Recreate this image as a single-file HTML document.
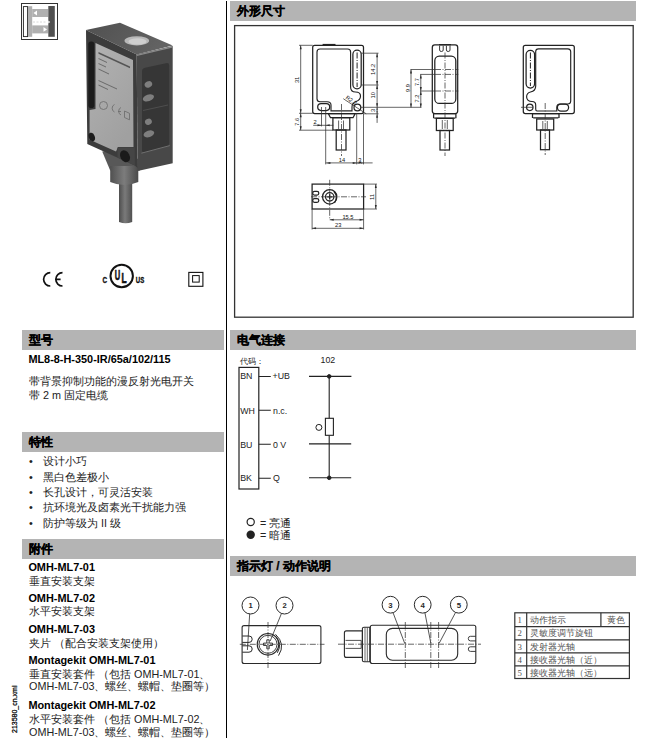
<!DOCTYPE html>
<html><head><meta charset="utf-8">
<style>
@font-face{font-family:"LSx";src:local("Liberation Sans"),local("LiberationSans-Regular");size-adjust:133.3%;unicode-range:U+2E80-9FFF,U+F900-FAFF,U+FE30-FE4F,U+FF00-FFEF;}
@font-face{font-family:"LSx";src:local("Liberation Sans Bold"),local("LiberationSans-Bold");font-weight:bold;size-adjust:133.3%;unicode-range:U+2E80-9FFF,U+F900-FAFF,U+FE30-FE4F,U+FF00-FFEF;}
html,body{margin:0;padding:0;background:#fff;}
body{width:660px;height:738px;position:relative;overflow:hidden;font-family:"LSx","Liberation Sans",sans-serif;color:#111;}
.a{position:absolute;white-space:nowrap;}
.bar{position:absolute;background:#b4b4b4;height:19.5px;line-height:21px;font-weight:bold;font-size:12px;color:#000;padding-left:7px;box-sizing:border-box;-webkit-text-stroke:0.25px #000;}
.b{font-weight:bold;font-size:10.9px;line-height:12px;color:#000;}
.t{font-size:10.8px;line-height:12px;color:#222;}
.li{font-size:10.8px;line-height:12px;color:#222;}
.s{font-size:8.8px;line-height:10px;color:#222;}
svg{position:absolute;left:0;top:0;}
.tb{font-family:"LSx","Liberation Serif",serif;font-size:8.8px;line-height:12px;color:#555;}
</style></head><body>

<!-- vertical divider -->
<div class="a" style="left:226px;top:1px;width:1.2px;height:737px;background:#000"></div>

<!-- header bars -->
<div class="bar" style="left:230px;top:1px;width:406px;">外形尺寸</div>
<div class="bar" style="left:22px;top:330px;width:202px;">型号</div>
<div class="bar" style="left:230px;top:330px;width:406px;">电气连接</div>
<div class="bar" style="left:22px;top:432.4px;width:202px;">特性</div>
<div class="bar" style="left:22px;top:539px;width:202px;">附件</div>
<div class="bar" style="left:230px;top:556px;width:406px;">指示灯 / 动作说明</div>

<!-- left column text -->
<div class="a b" style="left:28.4px;top:353px;">ML8-8-H-350-IR/65a/102/115</div>
<div class="a t" style="left:29px;top:375px;">带背景抑制功能的漫反射光电开关</div>
<div class="a t" style="left:29px;top:389px;">带 2 m 固定电缆</div>

<div class="a li" style="left:29px;top:455px;">•</div><div class="a li" style="left:43px;top:455px;">设计小巧</div>
<div class="a li" style="left:29px;top:470.5px;">•</div><div class="a li" style="left:43px;top:470.5px;">黑白色差极小</div>
<div class="a li" style="left:29px;top:485.5px;">•</div><div class="a li" style="left:43px;top:485.5px;">长孔设计，可灵活安装</div>
<div class="a li" style="left:29px;top:501px;">•</div><div class="a li" style="left:43px;top:501px;">抗环境光及卤素光干扰能力强</div>
<div class="a li" style="left:29px;top:516.5px;">•</div><div class="a li" style="left:43px;top:516.5px;">防护等级为 II 级</div>

<div class="a b" style="left:28.4px;top:560.5px;">OMH-ML7-01</div>
<div class="a t" style="left:29px;top:575px;">垂直安装支架</div>
<div class="a b" style="left:28.4px;top:592.3px;">OMH-ML7-02</div>
<div class="a t" style="left:29px;top:605.4px;">水平安装支架</div>
<div class="a b" style="left:28.4px;top:623.2px;">OMH-ML7-03</div>
<div class="a t" style="left:29px;top:636.5px;">夹片 （配合安装支架使用）</div>
<div class="a b" style="left:28.4px;top:654.4px;">Montagekit OMH-ML7-01</div>
<div class="a t" style="left:29px;top:668px;">垂直安装套件 （包括 OMH-ML7-01、</div>
<div class="a t" style="left:29px;top:680px;">OMH-ML7-03、螺丝、螺帽、垫圈等）</div>
<div class="a b" style="left:28.4px;top:698.9px;">Montagekit OMH-ML7-02</div>
<div class="a t" style="left:29px;top:712.8px;">水平安装套件 （包括 OMH-ML7-02、</div>
<div class="a t" style="left:29px;top:726.3px;">OMH-ML7-03、螺丝、螺帽、垫圈等）</div>

<div class="a" style="left:10.8px;top:733.2px;font-size:7px;line-height:7px;transform:rotate(-90deg);transform-origin:0 0;color:#000;-webkit-text-stroke:0.25px #000;">213580_cn.xml</div>

<!-- electrical text -->
<div class="a s" style="left:240px;top:355.5px;font-size:8.4px;">代码：</div>
<div class="a s" style="left:320.5px;top:354.6px;">102</div>
<div class="a s" style="left:240.2px;top:371.2px;">BN</div>
<div class="a s" style="left:272.6px;top:371.2px;">+UB</div>
<div class="a s" style="left:240.2px;top:405.6px;">WH</div>
<div class="a s" style="left:273px;top:405.6px;">n.c.</div>
<div class="a s" style="left:240.2px;top:439.5px;">BU</div>
<div class="a s" style="left:273px;top:439.5px;">0 V</div>
<div class="a s" style="left:240.2px;top:473.4px;">BK</div>
<div class="a s" style="left:273px;top:473.4px;">Q</div>
<div class="a t" style="left:260px;top:517.2px;">= 亮通</div>
<div class="a t" style="left:260px;top:529px;">= 暗通</div>


<div class="a tb" style="left:517.5px;top:614px;">1</div><div class="a tb" style="left:529.5px;top:614px;">动作指示</div><div class="a tb" style="left:607px;top:614px;">黄色</div>
<div class="a tb" style="left:517.5px;top:627.3px;">2</div><div class="a tb" style="left:529.5px;top:627.3px;">灵敏度调节旋钮</div>
<div class="a tb" style="left:517.5px;top:640.5px;">3</div><div class="a tb" style="left:529.5px;top:640.5px;">发射器光轴</div>
<div class="a tb" style="left:517.5px;top:653.5px;">4</div><div class="a tb" style="left:529.5px;top:653.5px;">接收器光轴（近）</div>
<div class="a tb" style="left:517.5px;top:666.5px;">5</div><div class="a tb" style="left:529.5px;top:666.5px;">接收器光轴（远）</div>

<!-- product photo -->
<svg width="660" height="738" viewBox="0 0 660 738">
  <defs>
    <linearGradient id="gl" x1="0" y1="0" x2="0.6" y2="1">
      <stop offset="0" stop-color="#b2b2b2"/><stop offset="1" stop-color="#a0a0a0"/>
    </linearGradient>
    <linearGradient id="gc" x1="0" y1="0" x2="1" y2="0">
      <stop offset="0" stop-color="#4e4e4e"/><stop offset="0.45" stop-color="#7a7a7a"/><stop offset="1" stop-color="#505050"/>
    </linearGradient>
    <linearGradient id="gk" x1="0" y1="0" x2="1" y2="0">
      <stop offset="0" stop-color="#505050"/><stop offset="0.5" stop-color="#7c7c7c"/><stop offset="1" stop-color="#4a4a4a"/>
    </linearGradient>
    <linearGradient id="gt" x1="0" y1="0" x2="1" y2="0.3">
      <stop offset="0" stop-color="#505050"/><stop offset="1" stop-color="#636363"/>
    </linearGradient>
  </defs>
  <!-- cable -->
  <path d="M119 180 L132.2 180 L132.2 222 Q125.6 224.5 119 222 Z" fill="url(#gc)"/>
  <!-- connector -->
  <path d="M102.2 151.5 L118 149 L140 160 L140 170.4 L110.2 170.4 Z" fill="#585858"/>
  <path d="M110.2 166 L138.3 166 L138.3 182 Q124.2 188 110.2 182 Z" fill="url(#gk)"/>
  <!-- top face -->
  <path d="M86 30 L120 22.8 L172.7 45.6 L136.7 54.5 Z" fill="url(#gt)"/>
  <ellipse cx="136.8" cy="40.8" rx="12.3" ry="4.6" fill="#b8b8b8"/>
  <ellipse cx="137.5" cy="41.4" rx="9" ry="3.2" fill="#cfcfcf"/>
  <!-- front face -->
  <path d="M86 30 L136.7 54.5 L137.6 168 L134.8 165.5 L87.3 144 Z" fill="#3c3c3c"/>
  <path d="M95.5 43 L133 60 L133.5 147 L118 147 L116 151.5 L97 143 L89.6 139.5 L89.6 110 L95.5 109 Z" fill="url(#gl)"/>
  <rect x="88.3" y="41.5" width="6" height="66.5" rx="2.8" fill="#1c1c1c"/>
  <ellipse cx="91.8" cy="137" rx="3" ry="4.4" transform="rotate(-20 91.8 137)" fill="#1c1c1c"/>
  <path d="M117.5 147.5 L134.8 147.5 L134.8 165.5 L117.5 157.5 Z" fill="#454545"/>
  <ellipse cx="125" cy="156.3" rx="4.6" ry="6.3" transform="rotate(-28 125 156.3)" fill="#1a1a1a"/>
  <!-- label text hints -->
  <g fill="#6a6a6a">
    <path d="M98.5 52 L130 66.5 L130 68.3 L98.5 53.8 Z" fill="#555"/>
    <path d="M98.5 58 L107 62 L107 63 L98.5 59 Z"/>
    <path d="M98.5 63 L106 66.5 L106 67.5 L98.5 64 Z"/>
    <path d="M98.5 68.5 L109 73.4 L109 74.4 L98.5 69.5 Z"/>
    <path d="M98.5 80 L117 88.5 L117 89.5 L98.5 81 Z"/>
    <path d="M98.5 84.5 L108 89 L108 90 L98.5 85.5 Z"/>
  </g>
  <g fill="none" stroke="#6a6a6a" stroke-width="0.8">
    <circle cx="103.5" cy="105.5" r="4"/>
    <path d="M114.5 112 a3.6 4 0 0 1 0 -7.5 M121 115 a3.6 4 0 0 1 0 -7.5 M118 111.5h3"/>
    <path d="M124.5 111 l5 2.3 v6.5 l-5 -2.3 z"/>
  </g>
  <!-- right face -->
  <path d="M136.7 54.5 L172.7 46 L172.7 163.3 L137.6 171 Z" fill="#484848"/>
  <path d="M136.7 55.3 L172.7 46.8" stroke="#8a8a8a" stroke-width="1.2"/>
  <path d="M142 71.5 Q142 68.5 145 67.8 L166 63.2 Q169.2 62.5 169.2 65.5 L169.2 143.5 Q169.2 146 166.5 146.8 L145 152.5 Q142 153.3 142 150.3 Z" fill="#363636"/>
  <path d="M141.4 153.2 L169.8 145.6" stroke="#707070" stroke-width="1"/>
  <path d="M143 110.5 L168 105" stroke="#4e4e4e" stroke-width="1"/>
  <g fill="#7e7e7e">
    <ellipse cx="148.4" cy="84.4" rx="3.9" ry="3.1" transform="rotate(-25 148.4 84.4)"/>
    <ellipse cx="148.4" cy="97.9" rx="5.8" ry="3.3" transform="rotate(-18 148.4 97.9)"/>
    <ellipse cx="148.4" cy="121.7" rx="3.5" ry="3" transform="rotate(-25 148.4 121.7)"/>
    <ellipse cx="148.9" cy="133.8" rx="5.5" ry="3.3" transform="rotate(-18 148.9 133.8)"/>
  </g>
</svg>

<!-- approval marks -->
<svg width="660" height="738" viewBox="0 0 660 738" fill="none" stroke="#111">
  <path d="M50.3 272.6A6.7 6.7 0 0 0 50.3 286" stroke-width="1.7"/>
  <path d="M62.5 272.6A6.7 6.7 0 0 0 62.5 286M56 279.3H60.6" stroke-width="1.7"/>
  <circle cx="121.7" cy="276" r="11.2" stroke-width="2"/>
  <rect x="188.8" y="272.4" width="14.1" height="13.9" stroke-width="1.1"/>
  <rect x="192.6" y="275.6" width="6.6" height="6.5" stroke-width="1"/>
  <g fill="#111" stroke="none" font-family="Liberation Sans" font-weight="bold">
    <text font-size="8.2" stroke="#111" stroke-width="0.35" transform="translate(102.6 282.6) scale(0.78 1)">C</text>
    <text font-size="8.4" stroke="#111" stroke-width="0.35" transform="translate(135.8 282.6) scale(0.72 1)">US</text>
    <text font-size="15" stroke="#111" stroke-width="0.7" transform="translate(114.8 280.2) scale(0.5 1)">U</text>
    <text font-size="14" stroke="#111" stroke-width="0.7" transform="translate(121.5 283.1) scale(0.6 1)">L</text>
  </g>
</svg>

<!-- top-left mode icon -->
<svg width="660" height="738" viewBox="0 0 660 738">
  <rect x="21.5" y="3.5" width="36" height="36" fill="#fff" stroke="#333" stroke-width="1"/>
  <rect x="23.4" y="6.6" width="4.2" height="30" fill="#fff" stroke="#222" stroke-width="0.9"/>
  <rect x="28" y="6.2" width="4.2" height="30.6" fill="#b0b0b0"/>
  <rect x="32.2" y="9" width="16" height="8" fill="#b0b0b0"/>
  <rect x="32.2" y="25.4" width="16" height="8" fill="#b0b0b0"/>
  <path d="M33.5 13 L37 10.5 L37 15.5 Z" fill="#fff"/>
  <path d="M47 29.4 L43.5 27 L43.5 31.8 Z" fill="#fff"/>
  <rect x="48.3" y="6" width="6.5" height="30.8" fill="#505050"/>
  <path d="M48.3 20.6 L50.2 22 L48.3 23.4 Z" fill="#fff"/>
  <path d="M33 22H47" stroke="#d8d8d8" stroke-width="1" stroke-dasharray="2 1.5"/>
</svg>


<!-- dimension drawings -->
<svg width="660" height="738" viewBox="0 0 660 738" fill="none" stroke="#222" stroke-width="0.9">
 <g stroke-width="1.25">
  <!-- view 1 front -->
  <rect x="312.7" y="45.3" width="50.8" height="68.2" rx="2"/>
  <path d="M322.6 44.6H335.5" stroke-width="1.4"/>
  <path d="M317 52Q317 49 320 49L347.6 49Q350.6 49 350.6 52L350.6 87Q350.6 92 355.5 92Q360.5 92 360.5 96Q360.5 100 356 101.5Q352 103 352 107L352 110.8L331 110.8L331 105Q331 101.7 327 101.7L320 101.7Q317 101.7 317 98.7Z" stroke-width="1.15"/>
  <rect x="352.9" y="50.2" width="8.3" height="38.6" rx="4.1"/>
  <rect x="317.7" y="103.7" width="12" height="6.8" rx="3.4"/>
  <circle cx="357.4" cy="107.4" r="3.4"/>
  <path d="M328.3 113.6L355.2 113.6L353 117.7L330.5 117.7Z"/>
  <rect x="332.9" y="117.7" width="16.9" height="12.3"/>
  <rect x="336.2" y="130" width="9.8" height="20"/>
  <path d="M338.6 120.5V129M343.5 120.5V129" stroke-width="0.7"/>
  <!-- view 2 side -->
  <rect x="432.3" y="44.9" width="25.4" height="68.7" rx="2.5"/>
  <path d="M439.6 45.8V50Q439.6 51.5 441.4 51.5Q443.2 51.5 443.2 50V45.8M446.4 45.8V50Q446.4 51.5 448.2 51.5Q450 51.5 450 50V45.8" stroke-width="0.9"/>
  <path d="M439 44.7H451" stroke-width="1.2"/>
  <rect x="434.8" y="56.2" width="21" height="47.2" rx="4.5"/>
  <path d="M433.6 113.6H455.9M434.3 118.2H455.2M433.6 113.6V118.2M455.9 113.6V118.2"/>
  <rect x="436.4" y="118.4" width="16.8" height="12.1"/>
  <rect x="440" y="130.5" width="9.5" height="19.5"/>
  <path d="M442.3 120V129M447.3 120V129" stroke-width="0.7"/>
  <!-- view 3 back -->
  <rect x="523.3" y="45.3" width="51" height="68.3" rx="2"/>
  <rect x="526.1" y="50.4" width="8.5" height="37.6" rx="4.2"/>
  <path d="M538.5 48.8L567.7 48.8Q570.7 48.8 570.7 51.8L570.7 101Q570.7 104 567.5 104L560 104Q556.8 104 556.8 107.5L556.8 111L537 111Q535.7 111 535.7 109L535.7 105Q535.7 101.5 532 101.5Q527 101.5 526.6 97Q526.6 93 530.5 92Q535.7 91 535.7 86L535.7 51.6Q535.7 48.8 538.5 48.8Z" stroke-width="1.15"/>
  <circle cx="529.8" cy="107.3" r="3.2"/>
  <rect x="557.4" y="104" width="11.2" height="7" rx="3.5"/>
  <path d="M532.5 113.6H559M533.2 117.9H558.3M532.5 113.6V117.9M559 113.6V117.9"/>
  <rect x="536.7" y="119" width="17" height="11"/>
  <rect x="540.5" y="130" width="9" height="19.7"/>
  <path d="M542.8 121V129M547.3 121V129" stroke-width="0.7"/>
  <!-- view 4 top -->
  <rect x="312.1" y="184.1" width="51.5" height="24.9"/>
  <rect x="312.7" y="191.4" width="6.1" height="3.6" rx="1.8"/>
  <rect x="312.7" y="198.6" width="6.1" height="3.7" rx="1.8"/>
  <circle cx="329.7" cy="196.8" r="7.2"/>
  <circle cx="329.7" cy="196.8" r="4.2"/>
  <path d="M334 191.5Q338.5 196.8 334.5 203" stroke-width="1.2"/>
  <path d="M327 196.8H332.4M329.7 194.2V199.4" stroke-width="1.3"/>
 </g>
 <!-- center lines (dash-dot) -->
 <g stroke-width="0.75" stroke="#333" stroke-dasharray="6 1.5 1 1.5">
  <path d="M341.5 104V156M445 52.5V156M545.2 103V155M435 69.5H458.3M435 74.4H458.3M435 91H458.3"/>
  <path d="M311 196.8H366M329.7 179.8V219.8"/>
  <path d="M357.1 52.5V87" stroke="#222" stroke-width="1"/>
  <path d="M530.4 52.5V86" stroke="#222" stroke-width="1"/>
 </g>
 <!-- dimension lines -->
 <g stroke-width="0.75" stroke="#333">
  <path d="M299 45.3H312.7M299 113.3H312.7M299 130.2H333M300.7 45.3V130.2"/>
  <path d="M313.2 125.3H333.3M321.5 107V126.4M325.7 107V164.4"/>
  <path d="M361 53.2H378.5M361 85H378.5M361 107.3H421.4M363.5 113.8H378.5M377.1 53.2V122.9"/>
  <path d="M343.3 98.7L366.2 113.8"/>
  <path d="M356.7 113V164.4M363.5 113.5V164.4M325.7 162.9H372.6"/>
  <path d="M410.5 69.5H435M420.2 74.4H435M420.2 91H435M411 69.5V107.5M420.8 74.4V107.5"/>
  <path d="M363.6 184.1H377M363.6 209H377M375.8 184.1V209"/>
  <path d="M363.6 209V229.5M312.1 209V229.5M329.7 219.8H363.6M312.1 228.3H363.6"/>
  <path d="M521 107.3H533"/>
 </g>
 <!-- arrow heads -->
 <g fill="#2a2a2a" stroke="none">
  <path d="M300.7 45.3l-1 4h2zM300.7 113.3l-1 -4h2zM300.7 113.3l-1 4h2zM300.7 130.2l-1 -4h2z"/>
  <path d="M321.5 125.3l-4 -1v2zM325.7 125.3l4 -1v2z"/>
  <path d="M377.1 53.2l-1 4h2zM377.1 85l-1 -4h2zM377.1 85l-1 4h2zM377.1 107.3l-1 -4h2zM377.1 107.3l-1 4h2zM377.1 113.8l-1 -4h2zM377.1 113.8l-1 4h2z"/>
  <path d="M326.4 162.9l4 -1v2zM356.7 162.9l-4 -1v2zM356.7 162.9l4 -1v2zM363.5 162.9l-4 -1v2z"/>
  <path d="M411 69.5l-1 4h2zM411 107.5l-1 -4h2zM420.8 74.4l-1 4h2zM420.8 91l-1 -4h2zM420.8 91l-1 4h2zM420.8 107.5l-1 -4h2z"/>
  <path d="M375.8 184.1l-1 4h2zM375.8 209l-1 -4h2z"/>
  <path d="M329.7 219.8l4 -1v2zM363.6 219.8l-4 -1v2zM312.1 228.3l4 -1v2zM363.6 228.3l-4 -1v2z"/>
 </g>
 <!-- dimension text -->
 <g fill="#111" stroke="none" font-family="Liberation Sans" font-size="5.7">
  <text transform="translate(299.2 83.1) rotate(-90)">31</text>
  <text transform="translate(299.2 125.8) rotate(-90)">7.6</text>
  <text x="313.4" y="124">2</text>
  <text transform="translate(375.4 74.9) rotate(-90)">14.2</text>
  <text transform="translate(375.4 98.4) rotate(-90)">10</text>
  <text transform="translate(375.4 111.9) rotate(-90)">3</text>
  <text transform="translate(345.2 98.6) rotate(33.5)" font-size="5.6">R2.2</text>
  <text x="338.8" y="161.9">14</text>
  <text x="358.3" y="161.9">3</text>
  <text transform="translate(409.9 91.9) rotate(-90)">9.9</text>
  <text transform="translate(418.7 86.1) rotate(-90)">7.7</text>
  <text transform="translate(418.7 102.4) rotate(-90)">7.2</text>
  <text transform="translate(373.5 199.9) rotate(-90)">11</text>
  <text x="342.4" y="219">15.5</text>
  <text x="335" y="227">23</text>
 </g>
</svg>


<!-- indicator drawings -->
<svg width="660" height="738" viewBox="0 0 660 738" fill="none" stroke="#2a2a2a" stroke-width="1.1">
 <!-- left top view -->
 <rect x="242.1" y="625.6" width="78.8" height="37.9" rx="2"/>
 <path d="M242.3 636H249A3.2 3.2 0 0 1 249 642.4H242.3M242.3 645.8H249A3.2 3.2 0 0 1 249 652.2H242.3" stroke-width="1"/>
 <circle cx="268" cy="644.3" r="10.8" stroke-width="1.1"/>
 <circle cx="268" cy="644.3" r="9" stroke-width="0.9"/>
 <path d="M266.8 639.8H269.2V643.1H272.5V645.5H269.2V648.8H266.8V645.5H263.5V643.1H266.8Z" stroke-width="0.9"/>
 <path d="M275.5 634.3Q286 644 278.5 655.6M276 636.8Q282.5 644 277.3 652.8" stroke-width="1"/>
 <circle cx="250.5" cy="605.5" r="8.5" stroke-width="1"/>
 <circle cx="284.5" cy="605.5" r="8.5" stroke-width="1"/>
 <path d="M249.7 613.7L247.4 650M281.5 613.4L270.2 641" stroke-width="0.8"/>
 <!-- right side view -->
 <path d="M372.3 625.3H473.8Q475.8 625.3 475.8 627.3V661.5Q475.8 663.5 473.8 663.5H372.3Q370.3 663.5 370.3 661.5V627.3Q370.3 625.3 372.3 625.3Z"/>
 <path d="M346.4 630.9H362.4V657.4H346.4Q344.4 657.4 344.4 655.4V632.9Q344.4 630.9 346.4 630.9Z"/>
 <path d="M345.5 640.4H361.2V648.4H345.5" stroke-width="0.8"/>
 <path d="M362.4 628.6Q362.4 627.2 364 627.2H369.8V661.7H364Q362.4 661.7 362.4 660.3Z"/>
 <path d="M365 627.5V661.5M367.3 627.5V661.5" stroke-width="0.7"/>
 <rect x="386.3" y="628.4" width="71.4" height="31.8" rx="6.2"/>
 <path d="M475.8 636.3H470.5Q468.3 636.3 468.3 638.6Q468.3 640.9 470.5 640.9H475.8M475.8 646.8H470.5Q468.3 646.8 468.3 649.1Q468.3 651.4 470.5 651.4H475.8" stroke-width="0.9"/>
 <circle cx="390.5" cy="604.7" r="8.4" stroke-width="1"/>
 <circle cx="422.7" cy="604.7" r="8.4" stroke-width="1"/>
 <circle cx="458.8" cy="604.7" r="8.4" stroke-width="1"/>
 <path d="M393 612.6L404.8 643.6M424.9 612.7L430.8 643M455.6 612.4L439.3 643" stroke-width="0.8"/>
 <g stroke-width="0.75" stroke="#333" stroke-dasharray="6 1.5 1 1.5">
  <path d="M239.8 644.3H324.5M268 622V668"/>
  <path d="M338 644.2H481M405.3 622V668M430.8 622V668M438.6 622V668"/>
 </g>
 <g fill="#2a2a2a" stroke="none" font-family="Liberation Sans" font-size="7.6" font-weight="bold" text-anchor="middle">
  <text x="250.6" y="608.2">1</text>
  <text x="284.6" y="608.2">2</text>
  <text x="390.5" y="607.6" font-size="7.8">3</text>
  <text x="422.7" y="607.6" font-size="7.8">4</text>
  <text x="458.8" y="607.6" font-size="7.8">5</text>
 </g>
 <!-- table -->
 <g stroke-width="1.2" stroke="#333">
  <rect x="514.8" y="612.8" width="114.6" height="65.7"/>
  <path d="M526.7 612.8V678.5M600.9 612.8V626.6M514.8 626.6H629.4M514.8 639.8H629.4M514.8 652.9H629.4M514.8 665.9H629.4"/>
 </g>
</svg>

<svg width="660" height="738" viewBox="0 0 660 738" fill="none" stroke="#222" stroke-width="1">
  <!-- dims box -->
  <rect x="234.6" y="25.6" width="398.6" height="291.6" stroke="#333" stroke-width="1.3"/>
  <!-- electrical -->
  <rect x="239" y="367.4" width="19.8" height="121.6" stroke-width="1.2"/>
  <path d="M258.8 376.5H270.8M258.8 410.3H270.8M258.8 444.2H270.8M258.8 478.2H270.8" stroke-width="1.1"/>
  <path d="M309 376.4H351.4M309 443.9H351.2M309 477.8H351.2M329.2 376.4V418.3M329.2 435.4V477.8" stroke-width="1.1"/>
  <rect x="325.4" y="418.3" width="8" height="17" stroke-width="1.1"/>
  <circle cx="329.2" cy="376.4" r="1.8" fill="#222"/>
  <circle cx="329.2" cy="477.8" r="1.8" fill="#222"/>
  <circle cx="318.9" cy="427.4" r="3" stroke-width="1"/>
  <circle cx="250.7" cy="522" r="3.6" stroke-width="1.2"/>
  <circle cx="250.7" cy="534.7" r="4.2" fill="#222" stroke="none"/>
</svg>
</body></html>
